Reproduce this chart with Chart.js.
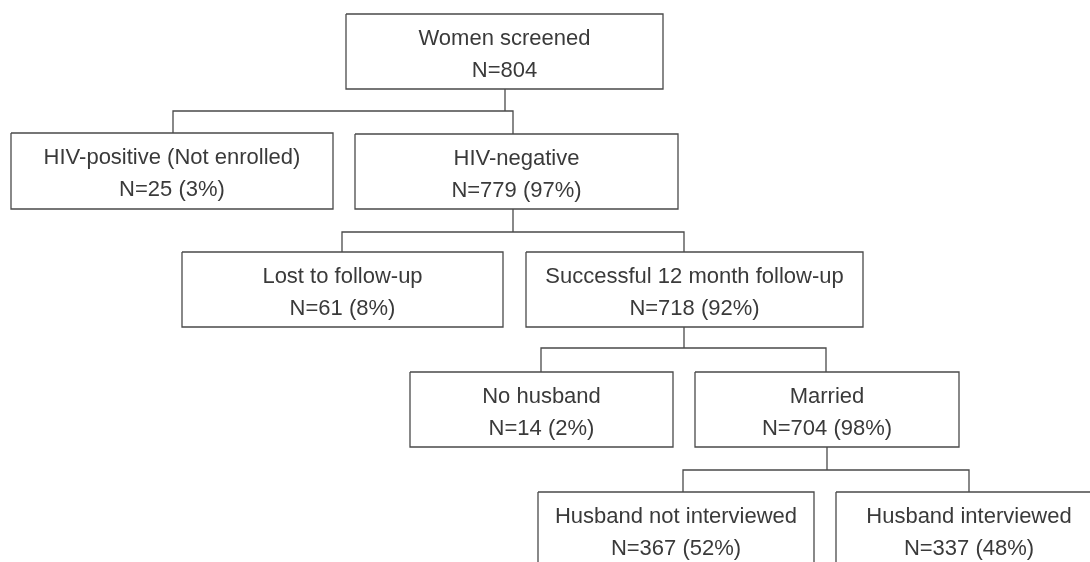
<!DOCTYPE html>
<html>
<head>
<meta charset="utf-8">
<script src="https://cdn.jsdelivr.net/npm/chart.js@4"></script>
<style>
  html, body { margin: 0; padding: 0; background: #fff; }
  #wrap { width: 1090px; height: 562px; position: relative; }
</style>
</head>
<body>
<div id="wrap"><canvas id="flujo"></canvas></div>
<script>
// datos del diagrama
const etiquetas = ['Women screened', 'HIV-positive (Not enrolled)', 'HIV-negative', 'Lost to follow-up',
  'Successful 12 month follow-up', 'No husband', 'Married', 'Husband not interviewed', 'Husband interviewed'];
const totales = [804, 25, 779, 61, 718, 14, 704, 367, 337];
const porcentajes = [null, 3, 97, 8, 92, 2, 98, 52, 48];
// padre -> hijos
const ramas = [[0, 1, 2], [2, 3, 4], [4, 5, 6], [6, 7, 8]];

// posicion de cada caja: [izq, der, arriba, abajo]
const cajas = [
  [346, 663, 14, 89],
  [11, 333, 133, 209],
  [355, 678, 134, 209],
  [182, 503, 252, 327],
  [526, 863, 252, 327],
  [410, 673, 372, 447],
  [695, 959, 372, 447],
  [538, 814, 492, 567],
  [836, 1102, 492, 567]
];
// nivel horizontal de cada conector y x de los tramos verticales
const niveles = [111, 232, 348, 470];
const tallos = [505, 513, 684, 827];
const bajadas = [[173, 513], [342, 684], [541, 826], [683, 969]];

const gris = '#4a4a4a';
const conjuntos = [];

// cajas
cajas.forEach(([l, r, t, b]) => {
  conjuntos.push({
    data: [{x: l, y: t}, {x: r, y: t}, {x: r, y: b}, {x: l, y: b}, {x: l, y: t}]
  });
});

// conectores
ramas.forEach(([p, a, c], i) => {
  const y = niveles[i];
  conjuntos.push({
    data: [{x: tallos[i], y: cajas[p][3]}, {x: tallos[i], y: y}]
  });
  conjuntos.push({
    data: [{x: bajadas[i][0], y: cajas[a][2]}, {x: bajadas[i][0], y: y},
           {x: bajadas[i][1], y: y}, {x: bajadas[i][1], y: cajas[c][2]}]
  });
});

conjuntos.forEach(d => {
  d.showLine = true;
  d.borderColor = gris;
  d.borderWidth = 1.3;
  d.pointRadius = 0;
  d.fill = false;
  d.tension = 0;
});

// textos de las cajas
const textos = {
  id: 'textos',
  afterDatasetsDraw(chart) {
    const {ctx, scales: {x, y}} = chart;
    ctx.save();
    ctx.beginPath();
    ctx.rect(chart.chartArea.left, chart.chartArea.top, chart.chartArea.width, chart.chartArea.height);
    ctx.clip();
    ctx.fillStyle = '#3a3a3a';
    ctx.font = '22px "Liberation Sans", Arial, sans-serif';
    ctx.textAlign = 'center';
    ctx.textBaseline = 'alphabetic';
    cajas.forEach(([l, r, t, b], i) => {
      const cx = x.getPixelForValue((l + r) / 2);
      const cy = (t + 37.5);
      const linea2 = porcentajes[i] === null ? `N=${totales[i]}` : `N=${totales[i]} (${porcentajes[i]}%)`;
      ctx.fillText(etiquetas[i], cx, y.getPixelForValue(cy - 6.5));
      ctx.fillText(linea2, cx, y.getPixelForValue(cy + 25.5));
    });
    ctx.restore();
  }
};

new Chart(document.getElementById('flujo'), {
  type: 'scatter',
  data: {datasets: conjuntos},
  options: {
    responsive: true,
    maintainAspectRatio: false,
    animation: false,
    layout: {padding: 0},
    plugins: {legend: {display: false}, tooltip: {enabled: false}},
    scales: {
      x: {type: 'linear', min: 0, max: 1090, display: false},
      y: {type: 'linear', min: 0, max: 562, reverse: true, display: false}
    }
  },
  plugins: [textos]
});
</script>
</body>
</html>
